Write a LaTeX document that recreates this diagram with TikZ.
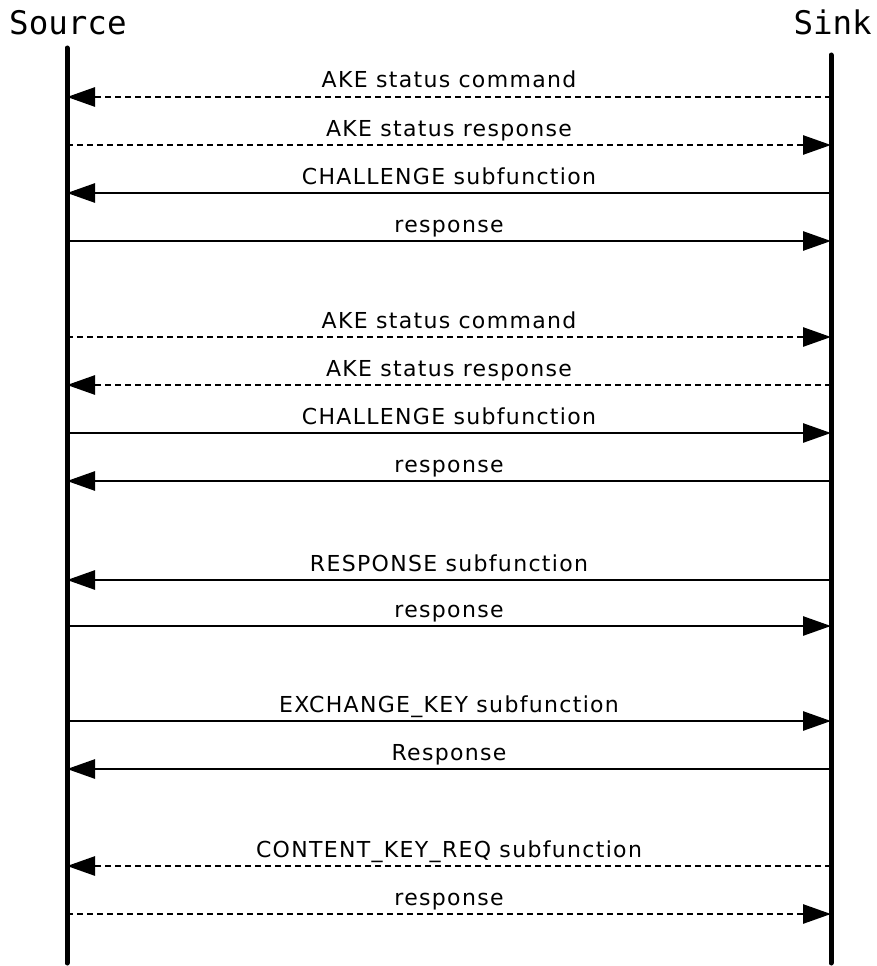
\documentclass[tikz,border=0pt]{standalone}
\usepackage{fontspec}
\usetikzlibrary{arrows.meta}
\newfontfamily\lblfont[LetterSpace=6]{DejaVu Sans}
\newfontfamily\headfont{DejaVu Sans Mono}

\tikzset{
  lifeline/.style={line width=5pt,line cap=round},
  msg/.style={line width=2.7pt,-{Triangle[length=28pt,width=19pt]}},
  msgdash/.style={msg,dash pattern=on 6pt off 4pt},
  lbl/.style={anchor=base,yshift=9pt,inner sep=0pt,font=\lblfont\fontsize{22}{26}\selectfont},
  head/.style={inner sep=0pt,font=\headfont\fontsize{32.5}{38}\selectfont}
}

\begin{document}
\begin{tikzpicture}[x=1pt,y=-1pt]
  \useasboundingbox (0,0) rectangle (876,966);

  %% headers and lifelines
  \node (src) at (9,35) [head,anchor=base west] {Source};
  \node (snk) at (872,35) [head,anchor=base east] {Sink};
  \coordinate (srcTop) at (67,48);
  \coordinate (srcBot) at (67,963);
  \coordinate (snkTop) at (831,55);
  \coordinate (snkBot) at (831,963);
  \draw[lifeline] (srcTop) -- (srcBot);
  \draw[lifeline] (snkTop) -- (snkBot);

  %% message end points
  \coordinate (s01) at (67,97);   \coordinate (k01) at (831,97);
  \coordinate (s02) at (67,145);  \coordinate (k02) at (831,145);
  \coordinate (s03) at (67,193);  \coordinate (k03) at (831,193);
  \coordinate (s04) at (67,241);  \coordinate (k04) at (831,241);
  \coordinate (s05) at (67,337);  \coordinate (k05) at (831,337);
  \coordinate (s06) at (67,385);  \coordinate (k06) at (831,385);
  \coordinate (s07) at (67,433);  \coordinate (k07) at (831,433);
  \coordinate (s08) at (67,481);  \coordinate (k08) at (831,481);
  \coordinate (s09) at (67,580);  \coordinate (k09) at (831,580);
  \coordinate (s10) at (67,626);  \coordinate (k10) at (831,626);
  \coordinate (s11) at (67,721);  \coordinate (k11) at (831,721);
  \coordinate (s12) at (67,769);  \coordinate (k12) at (831,769);
  \coordinate (s13) at (67,866);  \coordinate (k13) at (831,866);
  \coordinate (s14) at (67,914);  \coordinate (k14) at (831,914);

  %% first exchange
  \draw[msgdash] (k01) -- node[lbl] {AKE status command} (s01);
  \draw[msgdash] (s02) -- node[lbl] {AKE status response} (k02);
  \draw[msg] (k03) -- node[lbl] {CHALLENGE subfunction} (s03);
  \draw[msg] (s04) -- node[lbl] {response} (k04);

  %% second exchange
  \draw[msgdash] (s05) -- node[lbl] {AKE status command} (k05);
  \draw[msgdash] (k06) -- node[lbl] {AKE status response} (s06);
  \draw[msg] (s07) -- node[lbl] {CHALLENGE subfunction} (k07);
  \draw[msg] (k08) -- node[lbl] {response} (s08);

  %% response
  \draw[msg] (k09) -- node[lbl] {RESPONSE subfunction} (s09);
  \draw[msg] (s10) -- node[lbl] {response} (k10);

  %% key exchange
  \draw[msg] (s11) -- node[lbl] {EXCHANGE\_KEY subfunction} (k11);
  \draw[msg] (k12) -- node[lbl] {Response} (s12);

  %% content key
  \draw[msgdash] (k13) -- node[lbl] {CONTENT\_KEY\_REQ subfunction} (s13);
  \draw[msgdash] (s14) -- node[lbl] {response} (k14);

\end{tikzpicture}
\end{document}
